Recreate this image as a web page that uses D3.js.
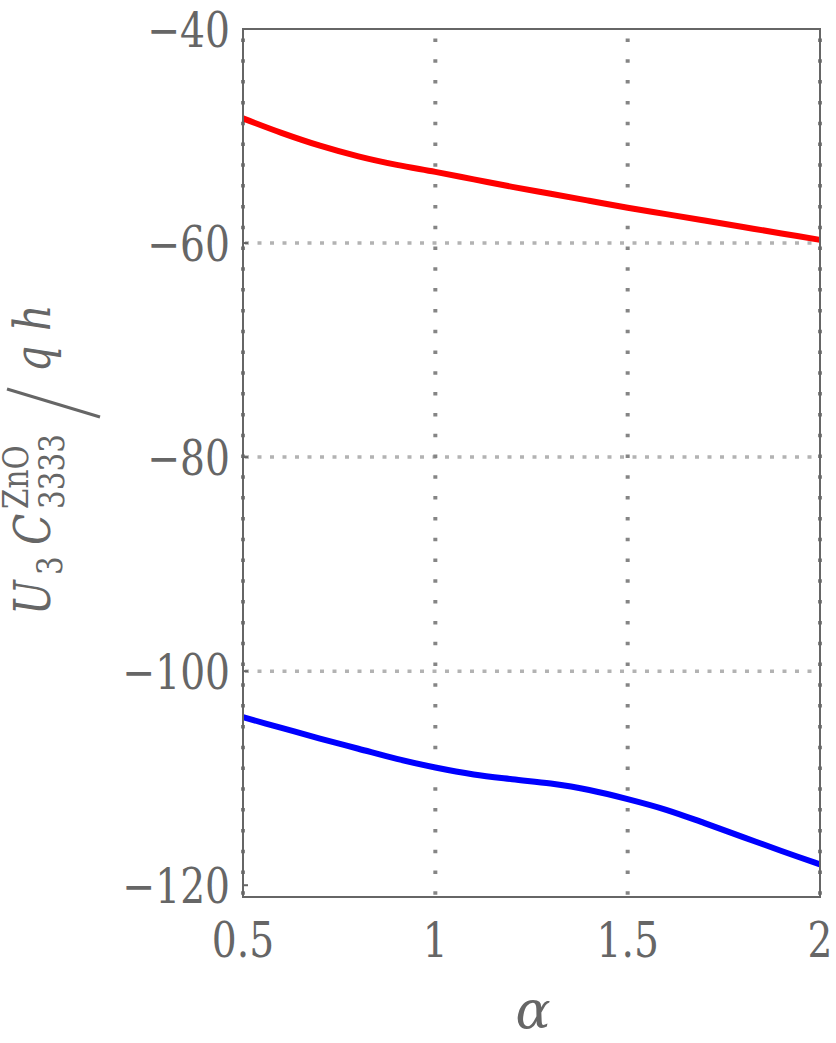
<!DOCTYPE html>
<html>
<head>
<meta charset="utf-8">
<script src="https://cdnjs.cloudflare.com/ajax/libs/d3/7.8.5/d3.min.js"></script>
<style>
  body { margin: 0; background: #fff; }
  svg text { font-family: "DejaVu Serif", serif; fill: #666; }
</style>
</head>
<body>
<script>
// values
const alpha = [0.5, 0.6, 0.7, 0.8, 0.9, 1.0, 1.1, 1.2, 1.3, 1.4, 1.5, 1.6, 1.7, 1.8, 1.9, 2.0];
const redSeries = [-48.35, -49.7, -50.9, -51.9, -52.7, -53.35, -54.05, -54.75, -55.4, -56.05,
                   -56.7, -57.3, -57.9, -58.5, -59.1, -59.7];
const blueSeries = [-104.3, -105.3, -106.3, -107.25, -108.2, -109.0, -109.65, -110.1, -110.5, -111.1,
                    -111.95, -112.95, -114.2, -115.5, -116.8, -118.05];
const xTicks = [0.5, 1, 1.5, 2];
const xTickLabels = ["0.5", "1", "1.5", "2"];
const yTicks = [-40, -60, -80, -100, -120];
const yGrid = [-60, -80, -100];

const W = 836, H = 1043;
const margin = {top: 29, right: 16, bottom: 146, left: 243};

const svg = d3.select("body").append("svg")
    .attr("width", W)
    .attr("height", H);

const x = d3.scaleLinear().domain([0.5, 2]).range([margin.left, W - margin.right]);
const y = d3.scaleLinear().domain([-121.1, -40]).range([H - margin.bottom, margin.top]);

// grid lines
svg.append("g").selectAll("line")
    .data(yGrid)
    .enter().append("line")
    .attr("x1", x(0.5)).attr("x2", x(2))
    .attr("y1", d => y(d)).attr("y2", d => y(d))
    .attr("stroke", "#b3b3b3")
    .attr("stroke-width", 3.5)
    .attr("stroke-dasharray", "4 8.5")
    .attr("stroke-dashoffset", -2);

svg.append("g").selectAll("line")
    .data(xTicks)
    .enter().append("line")
    .attr("x1", d => x(d)).attr("x2", d => x(d))
    .attr("y1", y(-40)).attr("y2", y(-121.1))
    .attr("stroke", "#858585")
    .attr("stroke-width", 4)
    .attr("stroke-dasharray", "3.5 17.3")
    .attr("stroke-dashoffset", 11.3);

// curves
const line = d3.line()
    .x((d, i) => x(alpha[i]))
    .y(d => y(d))
    .curve(d3.curveCatmullRom.alpha(0.5));

svg.append("path").datum(redSeries)
    .attr("d", line)
    .attr("fill", "none")
    .attr("stroke", "#ff0000")
    .attr("stroke-width", 6);

svg.append("path").datum(blueSeries)
    .attr("d", line)
    .attr("fill", "none")
    .attr("stroke", "#0000ff")
    .attr("stroke-width", 6);

// frame
svg.append("rect")
    .attr("x", x(0.5)).attr("y", y(-40))
    .attr("width", x(2) - x(0.5))
    .attr("height", y(-121.1) - y(-40))
    .attr("fill", "none")
    .attr("stroke", "#666")
    .attr("stroke-width", 2);

// y ticks + labels
svg.append("g").selectAll("line")
    .data(yTicks)
    .enter().append("line")
    .attr("x1", x(0.5)).attr("x2", x(0.5) + 5)
    .attr("y1", d => y(d)).attr("y2", d => y(d))
    .attr("stroke", "#666")
    .attr("stroke-width", 2);

// serif digits are wide here, so squeeze them horizontally
svg.append("g").selectAll("text")
    .data(yTicks)
    .enter().append("text")
    .attr("transform", d => `translate(${x(0.5) - 13},${y(d)}) scale(0.8,1)`)
    .attr("dy", "0.36em")
    .attr("text-anchor", "end")
    .style("font-size", "49px")
    .text(d => "\u2212" + Math.abs(d));

// x labels
svg.append("g").selectAll("text")
    .data(xTicks)
    .enter().append("text")
    .attr("transform", d => `translate(${x(d)},${y(-121.1) + 60}) scale(0.8,1)`)
    .attr("text-anchor", "middle")
    .style("font-size", "49px")
    .text((d, i) => xTickLabels[i]);

// x title
svg.append("text")
    .attr("x", 533)
    .attr("y", 1028)
    .attr("text-anchor", "middle")
    .style("font-size", "52px")
    .style("font-style", "italic")
    .text("\u03b1");

// y title: U_3 C^{ZnO}_{3333} / q h, rotated
const yt = svg.append("g").attr("transform", "translate(50,615) rotate(-90)");
function piece(str, px, dy, size, italic) {
  return yt.append("text")
      .attr("transform", `translate(${px},${dy}) scale(0.82,1)`)
      .style("font-size", size + "px")
      .style("font-style", italic ? "italic" : "normal")
      .text(str);
}
piece("U", 0, 0, 50, true);
piece("3", 40, 12, 36, false);
piece("C", 70, 0, 50, true);
piece("ZnO", 106, -22, 36, false);
piece("3333", 106, 14, 36, false);
yt.append("line")
    .attr("x1", 198).attr("y1", 50)
    .attr("x2", 226).attr("y2", -43)
    .attr("stroke", "#666")
    .attr("stroke-width", 3);
piece("q", 243, 0, 50, true);
piece("h", 284, 0, 50, true);
</script>
</body>
</html>
